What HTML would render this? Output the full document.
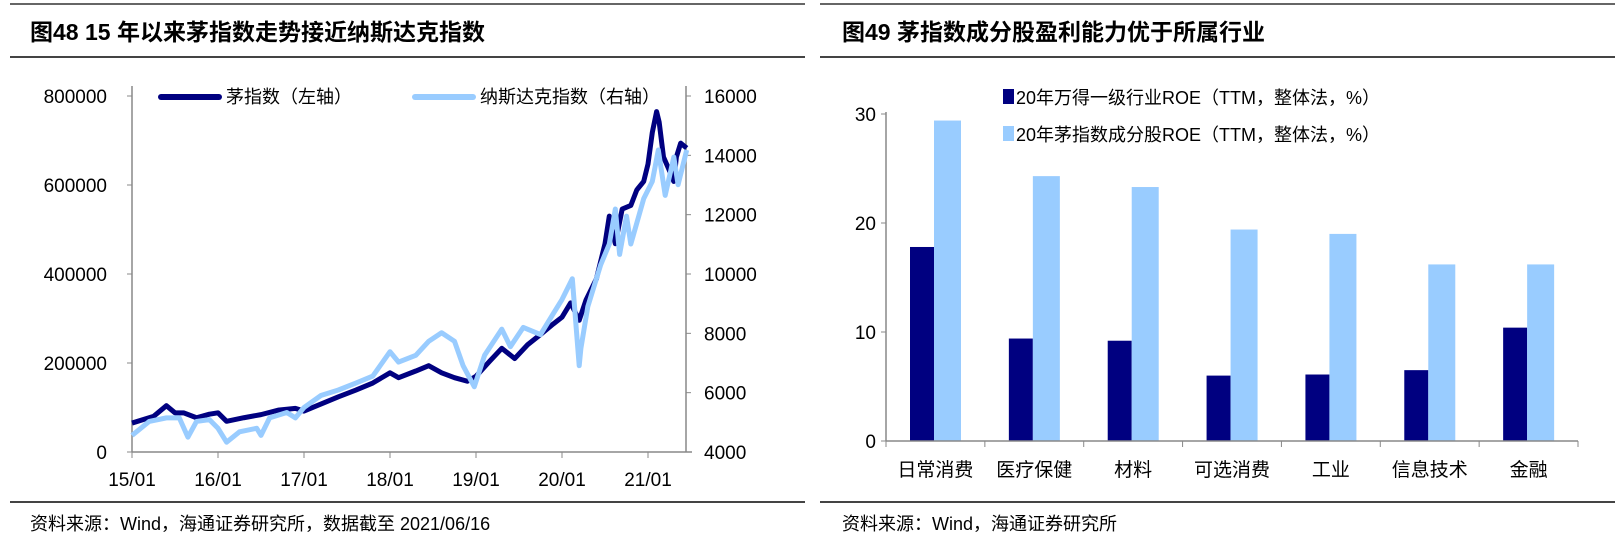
<!DOCTYPE html>
<html><head><meta charset="utf-8"><style>
body{margin:0;background:#fff;width:1620px;height:540px;overflow:hidden}
svg text{font-family:"Liberation Sans","Noto Sans CJK SC",sans-serif}
</style></head><body>
<svg width="1620" height="540" xmlns="http://www.w3.org/2000/svg" id="root">
<g>
<line x1="10" y1="4" x2="805" y2="4" stroke="#666" stroke-width="2"/>
<text x="30" y="40" font-size="23" font-weight="bold">图48 15 年以来茅指数走势接近纳斯达克指数</text>
<line x1="10" y1="57" x2="805" y2="57" stroke="#444" stroke-width="2"/>
<line x1="10" y1="502" x2="805" y2="502" stroke="#444" stroke-width="2"/>
<text x="30" y="530" font-size="18">资料来源：Wind，海通证券研究所，数据截至 2021/06/16</text>
<g id="lc"></g>
</g>
<g>
<line x1="820" y1="4" x2="1615" y2="4" stroke="#666" stroke-width="2"/>
<text x="842" y="40" font-size="23" font-weight="bold">图49 茅指数成分股盈利能力优于所属行业</text>
<line x1="820" y1="57" x2="1615" y2="57" stroke="#444" stroke-width="2"/>
<line x1="820" y1="502" x2="1615" y2="502" stroke="#444" stroke-width="2"/>
<text x="842" y="530" font-size="18">资料来源：Wind，海通证券研究所</text>
<g id="bc"></g>
</g>
</svg>
<script>
const NS="http://www.w3.org/2000/svg";
function mk(p,t,a){const e=document.createElementNS(NS,t);for(const k in a)e.setAttribute(k,a[k]);p.appendChild(e);return e;}
// ---- line chart data ----
const maoT=[2015.0,2015.25,2015.4,2015.5,2015.6,2015.75,2015.9,2016.0,2016.1,2016.3,2016.5,2016.7,2016.9,2017.0,2017.2,2017.4,2017.6,2017.8,2018.0,2018.1,2018.3,2018.45,2018.6,2018.75,2018.9,2019.0,2019.15,2019.3,2019.45,2019.6,2019.75,2019.9,2020.0,2020.1,2020.2,2020.28,2020.4,2020.5,2020.55,2020.62,2020.7,2020.8,2020.87,2020.95,2021.0,2021.05,2021.1,2021.13,2021.18,2021.25,2021.3,2021.33,2021.38,2021.45];
const maoV=[65000,80000,104000,88000,88000,77000,85000,88000,69000,77000,84000,94000,98000,92000,108000,124000,139000,155000,178000,167000,182000,194000,178000,167000,159000,170000,202000,233000,210000,241000,264000,288000,303000,335000,296000,342000,389000,468000,530000,468000,546000,554000,589000,608000,647000,718000,765000,741000,663000,632000,608000,663000,694000,683000];
const ndqT=[2015.0,2015.2,2015.4,2015.55,2015.65,2015.75,2015.9,2016.0,2016.1,2016.25,2016.45,2016.5,2016.6,2016.8,2016.9,2017.0,2017.2,2017.4,2017.6,2017.8,2018.0,2018.1,2018.3,2018.45,2018.6,2018.75,2018.85,2018.98,2019.1,2019.3,2019.4,2019.55,2019.75,2019.9,2020.0,2020.12,2020.2,2020.22,2020.3,2020.45,2020.55,2020.62,2020.67,2020.75,2020.8,2020.87,2020.95,2021.05,2021.12,2021.2,2021.3,2021.35,2021.45];
const ndqV=[4560,5030,5150,5150,4500,5030,5090,4800,4330,4680,4800,4560,5150,5330,5150,5500,5910,6090,6320,6560,7380,7030,7260,7730,8020,7730,6910,6200,7260,8140,7550,8200,7960,8670,9140,9840,6910,7500,8900,10310,11010,12190,10660,11950,11010,11720,12540,13120,14180,12650,13940,13010,14180];
const leftTicks=[0,200000,400000,600000,800000];
const rightTicks=[4000,6000,8000,10000,12000,14000,16000];
const xLabels=["15/01","16/01","17/01","18/01","19/01","20/01","21/01"];
const xYears=[2015,2016,2017,2018,2019,2020,2021];
// ---- bar chart data ----
const cats=["日常消费","医疗保健","材料","可选消费","工业","信息技术","金融"];
const indROE=[17.8,9.4,9.2,6.0,6.1,6.5,10.4];
const maoROE=[29.4,24.3,23.3,19.4,19.0,16.2,16.2];
const barTicks=[0,10,20,30];

(function(){
const g=document.getElementById('lc');
const L=132,R=686,T=96,B=452;
const x=t=>L+(t-2015)*86;
const yl=v=>B-(v/800000)*(B-T);
const yr=v=>B-((v-4000)/12000)*(B-T);
let e=mk(g,'line',{x1:L,y1:T-10,x2:L,y2:B,stroke:'#888','stroke-width':1.5});


e=mk(g,'line',{x1:R,y1:T-10,x2:R,y2:B,stroke:'#888','stroke-width':1.5});


e=mk(g,'line',{x1:L,y1:B,x2:R+6,y2:B,stroke:'#888','stroke-width':1.5});


leftTicks.forEach(v=>{
 mk(g,'line',{x1:L-5,y1:yl(v),x2:L,y2:yl(v),stroke:'#888'});
 const t=mk(g,'text',{x:L-25,y:yl(v)+7,'font-size':19,'text-anchor':'end'});t.textContent=v;
 
 
});
rightTicks.forEach(v=>{
 mk(g,'line',{x1:R,y1:yr(v),x2:R+5,y2:yr(v),stroke:'#888'});
 const t=mk(g,'text',{x:R+18,y:yr(v)+7,'font-size':19});t.textContent=v;
 
 
});
xYears.forEach((yv,i)=>{
 mk(g,'line',{x1:x(yv),y1:B,x2:x(yv),y2:B+6,stroke:'#888'});
 const t=mk(g,'text',{x:x(yv),y:B+34,'font-size':19,'text-anchor':'middle'});t.textContent=xLabels[i];
 
 
});
let p=mk(g,'polyline',{points:maoT.map((t,i)=>x(t)+','+yl(maoV[i])).join(' '),fill:'none',stroke:'#000080','stroke-width':5,'stroke-linejoin':'round'});


p=mk(g,'polyline',{points:ndqT.map((t,i)=>x(t)+','+yr(ndqV[i])).join(' '),fill:'none',stroke:'#99ccff','stroke-width':5,'stroke-linejoin':'round'});


const lg=mk(g,'g',{});


mk(lg,'line',{x1:161,y1:97,x2:219,y2:97,stroke:'#000080','stroke-width':6,'stroke-linecap':'round'});
let t=mk(lg,'text',{x:226,y:103,'font-size':18});t.textContent='茅指数（左轴）';


mk(lg,'line',{x1:415,y1:97,x2:473,y2:97,stroke:'#99ccff','stroke-width':6,'stroke-linecap':'round'});
t=mk(lg,'text',{x:480,y:103,'font-size':18});t.textContent='纳斯达克指数（右轴）';


})();

(function(){
const g=document.getElementById('bc');
const L=886,R=1578,T=114,B=441,W=(R-L)/7;
const y=v=>B-v/30*(B-T);
let e=mk(g,'line',{x1:L,y1:T-2,x2:L,y2:B,stroke:'#888','stroke-width':1.5});


barTicks.forEach(v=>{
 mk(g,'line',{x1:L-5,y1:y(v),x2:L,y2:y(v),stroke:'#888'});
 const t=mk(g,'text',{x:L-10,y:y(v)+7,'font-size':19,'text-anchor':'end'});t.textContent=v;
 
 
});
cats.forEach((c,i)=>{
 const x0=L+i*W;
 mk(g,'line',{x1:x0+W,y1:B,x2:x0+W,y2:B+6,stroke:'#888'});
 let r=mk(g,'rect',{x:x0+24,y:y(indROE[i]),width:24,height:B-y(indROE[i]),fill:'#000080'});
 
 
 r=mk(g,'rect',{x:x0+48,y:y(maoROE[i]),width:27,height:B-y(maoROE[i]),fill:'#99ccff'});
 
 
 const t=mk(g,'text',{x:x0+W/2,y:476,'font-size':19,'text-anchor':'middle'});t.textContent=c;
 
 
});
mk(g,'line',{x1:L,y1:B+6,x2:L,y2:B,stroke:'#888'});
e=mk(g,'line',{x1:L,y1:B,x2:R,y2:B,stroke:'#888','stroke-width':1.5});


const lg=mk(g,'g',{});


mk(lg,'rect',{x:1003,y:89,width:11,height:15,fill:'#000080'});
let t=mk(lg,'text',{x:1016,y:104,'font-size':18});t.textContent='20年万得一级行业ROE（TTM，整体法，%）';


mk(lg,'rect',{x:1003,y:126,width:11,height:15,fill:'#99ccff'});
t=mk(lg,'text',{x:1016,y:141,'font-size':18});t.textContent='20年茅指数成分股ROE（TTM，整体法，%）';


})();
</script>
</body></html>
